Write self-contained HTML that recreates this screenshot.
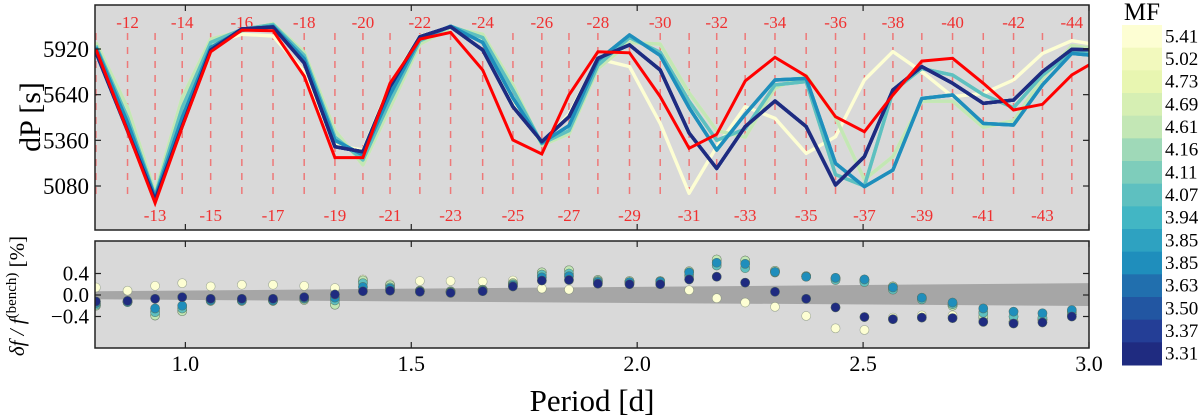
<!DOCTYPE html>
<html><head><meta charset="utf-8">
<style>
html,body{margin:0;padding:0;background:#fff;}
svg{display:block;font-family:"Liberation Serif","DejaVu Serif",serif;}
</style></head>
<body>
<svg id="chart" width="1200" height="419" viewBox="0 0 1200 419" xmlns="http://www.w3.org/2000/svg">
  <defs>
    <clipPath id="clipTop"><rect x="95" y="5" width="994" height="225"/></clipPath>
    <clipPath id="clipBot"><rect x="95" y="241" width="994" height="107"/></clipPath>
  </defs>
  <rect x="95" y="5" width="994" height="225" fill="#d9d9d9"/>
  <rect x="95" y="241" width="994" height="107" fill="#d9d9d9"/>
  <g id="topG" clip-path="url(#clipTop)"></g>
  <g id="botG" clip-path="url(#clipBot)"></g>
  <g id="axesG"></g>
  <rect x="95" y="5" width="994" height="225" fill="none" stroke="#222" stroke-width="1.5"/>
  <rect x="95" y="241" width="994" height="107" fill="none" stroke="#222" stroke-width="1.5"/>
  <text transform="translate(40,117) rotate(-90)" text-anchor="middle" font-size="30">dP [s]</text>
  <text transform="translate(24,296) rotate(-90)" text-anchor="middle" font-size="21" font-style="italic">δf / f<tspan dy="-8" font-size="15" font-style="normal">(bench)</tspan><tspan dy="8" font-style="normal"> [%]</tspan></text>
  <text x="592" y="411" text-anchor="middle" font-size="31">Period [d]</text>
  <g id="cbarG"></g>
  <text x="1142" y="20" text-anchor="middle" font-size="25">MF</text>
</svg>
<script>
const modes = [-11,-12,-13,-14,-15,-16,-17,-18,-19,-20,-21,-22,-23,-24,-25,-26,-27,-28,-29,-30,-31,-32,-33,-34,-35,-36,-37,-38,-39,-40,-41,-42,-43,-44,-45];
const periods = [0.802,0.872,0.933,0.993,1.056,1.125,1.194,1.263,1.331,1.393,1.453,1.519,1.587,1.658,1.725,1.789,1.849,1.913,1.983,2.051,2.115,2.176,2.239,2.305,2.374,2.439,2.503,2.566,2.630,2.698,2.766,2.833,2.897,2.962,3.03];
const dpObserved = [5920,5417,4976,5442,5903,6036,6032,5754,5254,5254,5710,5981,6022,5791,5362,5276,5638,5903,5897,5628,5311,5397,5724,5869,5754,5505,5413,5638,5846,5863,5710,5546,5581,5761,5870];
const dpA = [5900,5420,4994,5448,5914,6043,6055,5834,5321,5290,5689,5995,6057,5914,5566,5352,5505,5863,5945,5791,5405,5188,5444,5601,5444,5086,5260,5669,5812,5710,5587,5607,5781,5918,5912];
const dpB = [5930,5470,5010,5500,5930,6035,6060,5860,5360,5270,5640,5985,6060,5960,5620,5345,5450,5850,6006,5880,5560,5300,5520,5730,5740,5219,5076,5178,5617,5638,5464,5454,5700,5893,5875];
const dpC = [5940,5500,5020,5560,5960,6040,6070,5880,5380,5240,5600,5970,6060,5990,5670,5340,5420,5820,5990,5900,5600,5360,5430,5700,5720,5150,5080,5660,5800,5760,5640,5560,5760,5900,5885];
const dpD = [5960,5560,5040,5620,5980,6030,6075,5900,5420,5210,5560,5950,6050,6010,5700,5330,5400,5800,5960,5950,5650,5420,5380,5680,5760,5500,5120,5260,5600,5600,5440,5480,5740,5940,5915];
const dpE = [5950,5500,5000,5560,5950,6010,6000,5780,5330,5300,5700,6000,6050,5980,5600,5340,5520,5860,5812,5464,5035,5320,5566,5495,5280,5382,5730,5904,5781,5628,5648,5730,5893,5971,5940];
const resA = [-0.12,-0.11,-0.07,-0.04,-0.07,-0.07,-0.07,-0.04,0.01,0.07,0.08,0.06,0.04,0.07,0.16,0.27,0.28,0.21,0.2,0.2,0.29,0.34,0.23,0.06,-0.07,-0.23,-0.41,-0.45,-0.42,-0.43,-0.5,-0.53,-0.51,-0.40];
const resB = [-0.15,-0.13,-0.25,-0.2,-0.1,-0.1,-0.1,-0.06,-0.05,0.15,0.12,0.07,0.05,0.08,0.18,0.33,0.35,0.24,0.24,0.25,0.42,0.6,0.58,0.43,0.34,0.32,0.29,0.14,-0.05,-0.14,-0.25,-0.31,-0.34,-0.28];
const resC = [-0.18,-0.12,-0.32,-0.25,-0.09,-0.09,-0.1,-0.07,-0.1,0.22,0.14,0.07,0.06,0.09,0.2,0.38,0.4,0.26,0.23,0.22,0.36,0.55,0.5,0.42,0.34,0.28,0.24,0.1,-0.08,-0.17,-0.33,-0.4,-0.42,-0.33];
const resD = [-0.2,-0.13,-0.38,-0.3,-0.11,-0.11,-0.11,-0.09,-0.18,0.27,0.18,0.08,0.07,0.1,0.22,0.42,0.46,0.28,0.26,0.26,0.44,0.66,0.64,0.45,0.35,0.31,0.28,0.16,-0.06,-0.2,-0.4,-0.5,-0.46,-0.36];
const resE = [0.14,0.08,0.17,0.22,0.16,0.19,0.19,0.17,0.13,0.29,0.2,0.26,0.26,0.25,0.27,0.12,0.1,0.24,0.22,0.21,0.09,-0.06,-0.14,-0.22,-0.39,-0.62,-0.65,-0.42,-0.38,-0.38,-0.45,-0.5,-0.46,-0.3];
const bandPeriods = [0.8,3.0];
const bandUpper = [0.07,0.22];
const bandLower = [-0.08,-0.205];
const mfLabels = ["5.41","5.02","4.73","4.69","4.61","4.16","4.11","4.07","3.94","3.85","3.85","3.63","3.50","3.37","3.31"];
const mfColors = ["#fdfed3","#f2f9bd","#e8f6b1","#d6efb3","#c3e7b5","#9fd9b8","#7ecdbb","#5ec0c0","#42b6c4","#2ea2c1","#1f8ebc","#216fae","#2256a2","#243e96","#1f2b80"];
const xTicks = [1.0,1.5,2.0,2.5,3.0];
const xTickLabels = ["1.0","1.5","2.0","2.5","3.0"];
const yTicksTop = [5080,5360,5640,5920];
const yTicksBot = [-0.4,0.0,0.4];
const yTickLabelsBot = ["−0.4","0.0","0.4"];

const NS = "http://www.w3.org/2000/svg";
const X = p => 95 + (p - 0.8) / 2.2 * 994;
const YT = v => 49 + (5920 - v) * 0.1631;
const YB = v => 295 - v * 53.75;
function mk(tag, parent, attrs) { const e = document.createElementNS(NS, tag); for (const k in attrs) e.setAttribute(k, attrs[k]); parent.appendChild(e); return e; }
const gTop = document.getElementById('topG'), gBot = document.getElementById('botG'), gAxes = document.getElementById('axesG'), gCbar = document.getElementById('cbarG');

for (let i = 0; i < 34; i++) {
  const x = X(periods[i]);
  const l = mk('line', gTop, {x1: x, x2: x, y1: 33, y2: 198, stroke: 'rgba(255,40,40,0.55)', 'stroke-width': 1.5, 'stroke-dasharray': '7,7'});
  
  
  if (i > 0) {
    const even = modes[i] % 2 === 0;
    const t = mk('text', gTop, {x: x, y: even ? 28 : 221, 'text-anchor': 'middle', 'font-size': 17, fill: '#f03030'});
    t.textContent = String(modes[i]);
    
    
  }
}
const groupOf = ['E','D','D','D','D','C','C','C','B','B','B','A','A','A','A'];
const dpSets = {A: dpA, B: dpB, C: dpC, D: dpD, E: dpE};
const resSets = {A: resA, B: resB, C: resC, D: resD, E: resE};
for (let s = 0; s < 15; s++) {
  const arr = dpSets[groupOf[s]];
  const pts = arr.map((v, i) => X(periods[i]).toFixed(1) + ',' + YT(v).toFixed(1)).join(' ');
  const pl = mk('polyline', gTop, {points: pts, fill: 'none', stroke: mfColors[s], 'stroke-width': 3.4, 'stroke-linejoin': 'round'});
  
  
}
const obsPts = dpObserved.map((v, i) => X(periods[i]).toFixed(1) + ',' + YT(v).toFixed(1)).join(' ');
const obs = mk('polyline', gTop, {points: obsPts, fill: 'none', stroke: '#ff0000', 'stroke-width': 3});



const band = mk('polygon', gBot, {points: [X(bandPeriods[0]) + ',' + YB(bandUpper[0]), X(bandPeriods[1]) + ',' + YB(bandUpper[1]), X(bandPeriods[1]) + ',' + YB(bandLower[1]), X(bandPeriods[0]) + ',' + YB(bandLower[0])].join(' '), fill: '#a6a6a6'});


for (let s = 0; s < 15; s++) {
  const arr = resSets[groupOf[s]];
  for (let i = 0; i < arr.length; i++) {
    const c = mk('circle', gBot, {cx: X(periods[i]), cy: YB(arr[i]), r: 4.5, fill: mfColors[s], stroke: 'rgba(90,110,90,0.5)', 'stroke-width': 0.6});
    
    
  }
}

xTicks.forEach((p, i) => {
  const x = X(p);
  [[5, 11], [230, 224], [241, 247], [348, 342]].forEach(([a, b]) => mk('line', gAxes, {x1: x, x2: x, y1: a, y2: b, stroke: '#222', 'stroke-width': 1.2}));
  const t = mk('text', gAxes, {x: x, y: 371, 'text-anchor': 'middle', 'font-size': 22});
  t.textContent = xTickLabels[i];
  
  
});
yTicksTop.forEach(v => {
  const y = YT(v);
  mk('line', gAxes, {x1: 95, x2: 101, y1: y, y2: y, stroke: '#222', 'stroke-width': 1.2});
  mk('line', gAxes, {x1: 1089, x2: 1083, y1: y, y2: y, stroke: '#222', 'stroke-width': 1.2});
  const t = mk('text', gAxes, {x: 89, y: y + 8, 'text-anchor': 'end', 'font-size': 23});
  t.textContent = String(v);
  
  
});
yTicksBot.forEach((v, i) => {
  const y = YB(v);
  mk('line', gAxes, {x1: 95, x2: 101, y1: y, y2: y, stroke: '#222', 'stroke-width': 1.2});
  mk('line', gAxes, {x1: 1089, x2: 1083, y1: y, y2: y, stroke: '#222', 'stroke-width': 1.2});
  const t = mk('text', gAxes, {x: 89, y: y + 7, 'text-anchor': 'end', 'font-size': 21});
  t.textContent = yTickLabelsBot[i];
  
  
});

const cbTop = 25, cbH = 340 / 15;
mfColors.forEach((c, i) => {
  const r = mk('rect', gCbar, {x: 1122, y: cbTop + i * cbH, width: 40, height: cbH + 0.5, fill: c});
  
  
  const t = mk('text', gCbar, {x: 1165, y: cbTop + i * cbH + cbH / 2 + 6, 'font-size': 19});
  t.textContent = mfLabels[i];
  
  
});
</script>
</body></html>
